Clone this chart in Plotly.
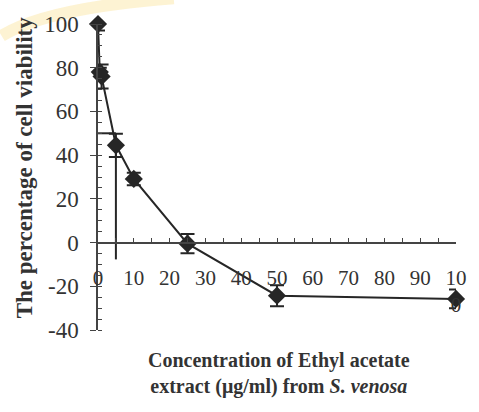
import plotly.graph_objects as go

# ---- data ----
concentration = [0, 0.5, 1, 5, 10, 25, 50, 100]
viability = [100, 78, 76, 44.5, 29.1, -0.5, -24.3, -25.8]
viability_err = [3, 2, 5.5, 5.3, 2.9, 4.4, 4.8, 4.3]
ic50_conc = 5
ic50_level = 50
ic50_drop_to = -7.7
x_tick_vals = [0, 10, 20, 30, 40, 50, 60, 70, 80, 90, 100]
x_tick_text = ["0", "10", "20", "30", "40", "50", "60", "70", "80", "90", "10<br>0"]
y_tick_vals = [-40, -20, 0, 20, 40, 60, 80, 100]
y_tick_text = ["-40", "-20", "0", "20", "40", "60", "80", "100"]

INK = "#262626"
FONT = "Liberation Serif, Times New Roman, serif"

W, H = 479, 412
L, R, T, B = 98, 17, 22, 82
YMIN, YMAX = -40, 100


def px_to_paper(px, py):
    pw = W - L - R
    ph = H - T - B
    return (px - L) / pw, (H - B - py) / ph


fig = go.Figure()

# IC50 guide lines
fig.add_trace(go.Scatter(
    x=[0, ic50_conc], y=[ic50_level, ic50_level], mode="lines",
    line=dict(color=INK, width=2), showlegend=False, hoverinfo="skip", cliponaxis=False))
fig.add_trace(go.Scatter(
    x=[ic50_conc, ic50_conc], y=[viability[concentration.index(ic50_conc)], ic50_drop_to],
    mode="lines", line=dict(color=INK, width=2), showlegend=False, hoverinfo="skip",
    cliponaxis=False))

fig.add_trace(go.Scatter(
    x=concentration, y=viability, mode="lines+markers",
    line=dict(color=INK, width=2),
    marker=dict(symbol="diamond", size=14, color=INK),
    error_y=dict(type="data", array=viability_err, visible=True, color=INK,
                 thickness=2, width=7),
    cliponaxis=False, showlegend=False))

# faint watermark arc (background decoration)
p0 = px_to_paper(0, 34)
p1 = px_to_paper(45, 6)
p2 = px_to_paper(175, -4)
fig.add_shape(type="path", xref="paper", yref="paper", layer="below",
              path=f"M {p0[0]},{p0[1]} Q {p1[0]},{p1[1]} {p2[0]},{p2[1]}",
              line=dict(color="rgba(250,222,130,0.35)", width=12))

fig.update_layout(
    width=W, height=H,
    margin=dict(l=L, r=R, t=T, b=B),
    paper_bgcolor="white", plot_bgcolor="rgba(0,0,0,0)",
    font=dict(family=FONT, color="#333333"),
    xaxis=dict(
        range=[0, 100], tickvals=x_tick_vals, ticktext=x_tick_text,
        ticks="inside", ticklen=4, tickwidth=1.2, tickcolor="#444",
        minor=dict(dtick=5, ticks="inside", ticklen=4, tickwidth=1.2, tickcolor="#444"),
        showgrid=False, zeroline=False, showline=True, linecolor="#444", linewidth=1.5,
        anchor="free", position=(0 - YMIN) / (YMAX - YMIN),
        tickfont=dict(size=21, family=FONT, color="#333"),
        ticklabelstandoff=16,
    ),
    yaxis=dict(
        range=[YMIN, YMAX], tickvals=y_tick_vals, ticktext=y_tick_text,
        ticks="outside", ticklen=6, tickwidth=1.2, tickcolor="#444",
        minor=dict(dtick=5, ticks="inside", ticklen=4, tickwidth=1.2, tickcolor="#444"),
        showgrid=False, zeroline=False, showline=True, linecolor="#444", linewidth=1.5,
        tickfont=dict(size=23, family=FONT, color="#333"),
        ticklabelstandoff=7,
    ),
)

yt = px_to_paper(23, 166)
fig.add_annotation(
    text="<b>The percentage of cell viability</b>", textangle=-90,
    xref="paper", yref="paper", x=yt[0], y=yt[1], xanchor="center", yanchor="middle",
    showarrow=False, font=dict(size=23, family=FONT, color="#333"))

xt = px_to_paper(282, 374)
fig.add_annotation(
    text="<b>Concentration of Ethyl acetate<br>extract (μg/ml) from <i>S. venosa</i></b>",
    xref="paper", yref="paper", x=xt[0], y=xt[1], xanchor="center", yanchor="middle",
    showarrow=False, align="center", font=dict(size=20, family=FONT, color="#333"))

fig.write_html("out.html")
